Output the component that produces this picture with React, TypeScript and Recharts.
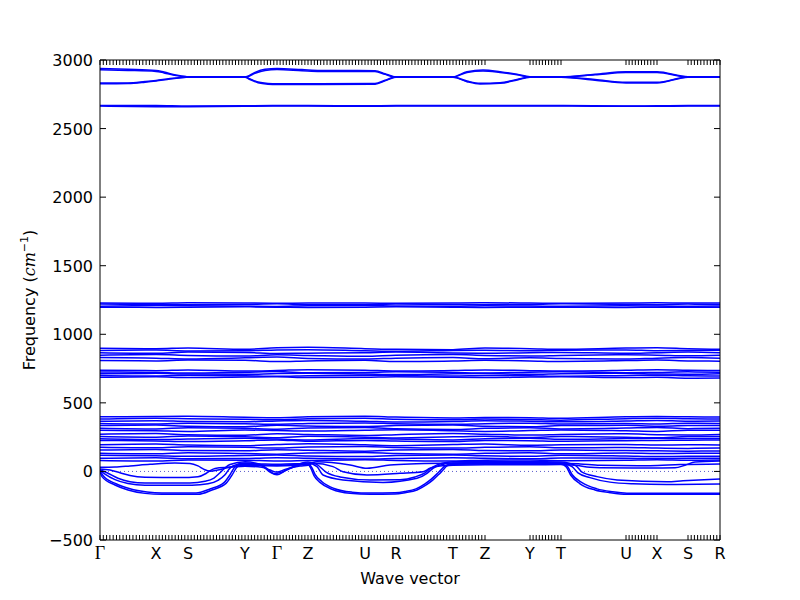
import { LineChart, Line, XAxis, YAxis, ReferenceLine, Label } from 'recharts';

// high-symmetry path
const hsLabels = ['Γ', 'X', 'S', 'Y', 'Γ', 'Z', 'U', 'R', 'T', 'Z', 'Y', 'T', 'U', 'X', 'S', 'R'];
const hsK = [0, 0.56, 0.88, 1.45, 1.77, 2.08, 2.65, 2.96, 3.53, 3.85, 4.3, 4.61, 5.26, 5.57, 5.88, 6.2];

// k-point sampling shown as small ticks: [from, to, steps]
const sampledSegments = [
  [0, 0.56, 17], [0.56, 0.88, 10], [0.88, 1.45, 18], [1.45, 1.77, 10], [1.77, 2.08, 10],
  [2.08, 2.65, 18], [2.65, 2.96, 10], [2.96, 3.53, 18], [3.53, 3.85, 10],
  [4.3, 4.61, 10], [5.26, 5.57, 10], [5.88, 6.2, 10],
];

const freqTicks = [-500, 0, 500, 1000, 1500, 2000, 2500, 3000];

// C-H stretch bands (k, freq)
const topA = [[0, 2938], [0.28, 2932], [0.56, 2924], [0.64, 2912], [0.76, 2890], [0.86, 2879], [0.88, 2878], [1.45, 2878], [1.47, 2880], [1.55, 2910], [1.65, 2932], [1.77, 2938], [2.02, 2930], [2.2, 2924], [2.75, 2922], [2.85, 2900], [2.93, 2880], [2.96, 2878], [3.53, 2878], [3.67, 2915], [3.83, 2927], [4.0, 2915], [4.17, 2896], [4.3, 2878], [4.61, 2878], [4.95, 2896], [5.26, 2914], [5.57, 2914], [5.88, 2878], [6.2, 2878]];
const topB = [[0, 2928], [0.28, 2924], [0.56, 2917], [0.64, 2906], [0.76, 2886], [0.86, 2877], [0.88, 2876], [1.45, 2876], [1.47, 2877], [1.55, 2903], [1.65, 2924], [1.77, 2930], [2.02, 2922], [2.2, 2917], [2.75, 2916], [2.85, 2895], [2.93, 2878], [2.96, 2876], [3.53, 2876], [3.67, 2909], [3.83, 2920], [4.0, 2909], [4.17, 2892], [4.3, 2876], [4.61, 2876], [4.95, 2892], [5.26, 2908], [5.57, 2908], [5.88, 2876], [6.2, 2876]];
const topC = [[0, 2826], [0.28, 2828], [0.45, 2838], [0.56, 2847], [0.7, 2862], [0.86, 2874], [0.88, 2875], [1.45, 2875], [1.5, 2858], [1.58, 2834], [1.68, 2824], [1.77, 2822], [2.2, 2822], [2.75, 2824], [2.85, 2848], [2.93, 2870], [2.96, 2875], [3.53, 2875], [3.67, 2842], [3.8, 2825], [4.0, 2830], [4.17, 2854], [4.3, 2875], [4.61, 2875], [4.95, 2853], [5.26, 2832], [5.57, 2832], [5.88, 2875], [6.2, 2875]];
const topD = [[0, 2832], [0.28, 2833], [0.45, 2843], [0.56, 2851], [0.7, 2865], [0.86, 2875], [0.88, 2876], [1.45, 2876], [1.5, 2862], [1.58, 2839], [1.68, 2829], [1.77, 2827], [2.2, 2827], [2.75, 2829], [2.85, 2852], [2.93, 2872], [2.96, 2876], [3.53, 2876], [3.67, 2847], [3.8, 2830], [4.0, 2835], [4.17, 2858], [4.3, 2876], [4.61, 2876], [4.95, 2857], [5.26, 2837], [5.57, 2837], [5.88, 2876], [6.2, 2876]];

// flat-ish bands, values at hsK
const h1 = [2668, 2668, 2664, 2666, 2668, 2668, 2666, 2668, 2668, 2668, 2668, 2668, 2664, 2666, 2668, 2668];
const h2 = [2664, 2660, 2660, 2662, 2664, 2664, 2662, 2664, 2664, 2664, 2664, 2664, 2662, 2662, 2664, 2664];

const b1 = [1228, 1226, 1230, 1228, 1226, 1228, 1228, 1226, 1228, 1230, 1228, 1226, 1228, 1230, 1228, 1228];
const b2 = [1220, 1218, 1215, 1218, 1222, 1216, 1216, 1220, 1218, 1216, 1218, 1222, 1218, 1216, 1220, 1218];
const b3 = [1205, 1210, 1208, 1205, 1203, 1208, 1210, 1206, 1204, 1208, 1206, 1204, 1208, 1206, 1204, 1206];
const b4 = [1198, 1196, 1198, 1200, 1198, 1196, 1198, 1200, 1198, 1196, 1198, 1198, 1196, 1198, 1198, 1198];

const c1 = [898, 895, 900, 890, 902, 905, 895, 890, 888, 900, 895, 890, 900, 902, 895, 890];
const c2 = [882, 885, 878, 880, 886, 888, 880, 876, 882, 884, 880, 884, 886, 880, 882, 884];
const c3 = [866, 862, 870, 868, 860, 862, 866, 870, 864, 862, 866, 868, 862, 866, 870, 866];
const c4 = [848, 852, 846, 842, 850, 846, 840, 848, 852, 846, 842, 846, 850, 848, 844, 848];
const c5 = [830, 826, 820, 828, 834, 824, 820, 826, 830, 822, 828, 824, 820, 826, 830, 826];
const c6 = [808, 806, 812, 810, 802, 806, 810, 802, 806, 810, 806, 802, 808, 812, 806, 804];

const d1 = [738, 735, 740, 732, 736, 742, 738, 732, 736, 740, 735, 732, 738, 742, 738, 736];
const d2 = [725, 722, 718, 724, 728, 720, 722, 726, 722, 718, 724, 726, 720, 722, 726, 724];
const d3 = [712, 715, 710, 708, 714, 716, 710, 706, 712, 714, 708, 712, 716, 710, 708, 712];
const d4 = [700, 696, 702, 698, 694, 698, 702, 700, 696, 700, 698, 694, 700, 702, 698, 696];
const d5 = [686, 690, 684, 688, 690, 684, 686, 690, 686, 684, 688, 690, 684, 686, 680, 682];

const e1 = [398, 400, 402, 395, 392, 398, 402, 396, 390, 394, 392, 388, 398, 400, 398, 396];
const e2 = [382, 388, 385, 380, 376, 384, 388, 380, 376, 382, 378, 374, 385, 388, 384, 382];
const e3 = [366, 370, 364, 362, 368, 372, 366, 360, 364, 370, 366, 362, 368, 372, 366, 368];
const e4 = [350, 346, 352, 348, 344, 350, 354, 348, 344, 348, 352, 346, 350, 346, 352, 350];
const e5 = [334, 338, 330, 326, 336, 332, 328, 334, 338, 330, 326, 334, 336, 330, 334, 334];
const e6 = [315, 310, 318, 314, 308, 316, 320, 312, 306, 314, 318, 310, 316, 320, 312, 314];
const e7 = [300, 296, 292, 302, 298, 294, 300, 304, 296, 292, 298, 302, 296, 292, 300, 300];
const e8 = [272, 276, 268, 264, 274, 270, 262, 268, 276, 272, 266, 270, 274, 268, 266, 270];
const e9 = [255, 250, 258, 252, 246, 256, 250, 244, 252, 256, 248, 254, 250, 246, 254, 254];
const e10 = [238, 232, 236, 242, 236, 230, 240, 236, 230, 238, 242, 234, 240, 242, 240, 241];
const e11 = [226, 222, 218, 224, 230, 220, 226, 222, 218, 226, 224, 220, 224, 226, 228, 229];
const e12 = [195, 200, 192, 188, 196, 202, 194, 188, 196, 200, 190, 194, 196, 192, 194, 193];
const e13 = [176, 172, 180, 176, 170, 178, 182, 174, 170, 176, 180, 172, 174, 170, 168, 170];
const e14 = [156, 160, 152, 150, 158, 154, 148, 156, 160, 152, 150, 156, 152, 150, 148, 149];
const e15 = [132, 128, 136, 130, 126, 134, 138, 130, 126, 132, 136, 128, 134, 130, 132, 132];
const e16 = [118, 114, 110, 116, 120, 112, 108, 116, 120, 114, 110, 118, 112, 108, 110, 110];
const e17 = [96, 100, 92, 94, 100, 96, 90, 94, 100, 96, 92, 98, 96, 94, 96, 96];
const e18 = [80, 76, 84, 82, 76, 80, 86, 80, 76, 82, 84, 78, 82, 86, 82, 83];

// soft / imaginary modes (k, freq)
const ac1 = [[0, 0], [0.02, -38], [0.15, -99], [0.28, -135], [0.45, -160], [0.62, -167], [0.98, -167], [1.12, -135], [1.26, -87], [1.32, -27], [1.36, 22], [1.39, 45], [1.45, 52], [1.6, 48], [1.77, 45], [1.95, 50], [2.08, 50], [2.11, 20], [2.14, -30], [2.2, -80], [2.32, -130], [2.5, -160], [2.7, -167], [2.95, -165], [3.05, -155], [3.17, -135], [3.27, -95], [3.33, -62], [3.39, -20], [3.43, 10], [3.47, 40], [3.53, 52], [3.85, 55], [4.3, 55], [4.61, 52], [4.66, 35], [4.71, -30], [4.8, -90], [4.95, -135], [5.1, -155], [5.27, -167], [6.2, -167]];
const ac2 = [[0, 5], [0.03, -30], [0.16, -90], [0.3, -127], [0.47, -150], [0.62, -157], [0.96, -157], [1.1, -128], [1.24, -82], [1.3, -24], [1.34, 24], [1.38, 48], [1.45, 58], [1.6, 55], [1.77, 52], [1.95, 56], [2.08, 56], [2.12, 25], [2.15, -22], [2.22, -75], [2.34, -124], [2.52, -151], [2.7, -158], [2.95, -156], [3.05, -147], [3.16, -127], [3.25, -90], [3.31, -58], [3.37, -18], [3.41, 12], [3.45, 40], [3.53, 58], [3.85, 60], [4.3, 60], [4.61, 58], [4.67, 40], [4.72, -22], [4.82, -82], [4.97, -127], [5.12, -148], [5.27, -159], [6.2, -160]];
const ac3 = [[0, 8], [0.05, -20], [0.15, -60], [0.28, -88], [0.45, -100], [0.92, -100], [1.08, -90], [1.18, -65], [1.25, -25], [1.29, 15], [1.33, 40], [1.45, 62], [1.62, 40], [1.7, -5], [1.77, -25], [1.85, 5], [1.95, 35], [2.08, 62], [2.17, 35], [2.23, -26], [2.43, -62], [2.83, -80], [3.17, -50], [3.27, -14], [3.33, 23], [3.45, 55], [3.53, 62], [3.85, 65], [4.3, 65], [4.61, 62], [4.72, 35], [4.78, -10], [4.9, -45], [5.1, -78], [5.33, -90], [5.67, -95], [6.2, -92]];
const ac4 = [[0, 12], [0.07, -10], [0.18, -50], [0.3, -75], [0.45, -85], [0.9, -84], [1.05, -72], [1.14, -48], [1.2, -10], [1.25, 25], [1.3, 50], [1.45, 70], [1.6, 52], [1.68, 15], [1.74, -15], [1.8, -10], [1.9, 25], [2.08, 68], [2.17, 50], [2.26, -5], [2.4, -40], [2.7, -62], [3.0, -60], [3.15, -40], [3.25, -10], [3.32, 30], [3.53, 70], [3.85, 72], [4.3, 72], [4.61, 68], [4.76, 40], [4.82, -5], [4.97, -38], [5.17, -62], [5.67, -75], [5.83, -68], [6.2, -55]];
const ac5 = [[0, 18], [0.1, 10], [0.2, -10], [0.3, -30], [0.45, -42], [0.8, -45], [0.98, -38], [1.06, -15], [1.1, 5], [1.15, 22], [1.3, 30], [1.45, 38], [1.62, 30], [1.7, 10], [1.77, -5], [1.85, 15], [2.0, 40], [2.08, 45], [2.13, 59], [2.33, 35], [2.43, -2], [2.67, -26], [3.0, -14], [3.23, -2], [3.3, 23], [3.4, 40], [3.53, 45], [3.85, 48], [4.3, 48], [4.61, 50], [4.75, 45], [4.9, 30], [5.0, 27], [5.5, 25], [5.75, 27], [5.85, 45], [5.95, 68], [6.2, 76]];
const ac6 = [[0, 30], [0.15, 32], [0.3, 40], [0.5, 52], [0.75, 62], [0.9, 58], [0.98, 40], [1.04, 15], [1.1, 2], [1.18, 10], [1.3, 32], [1.45, 45], [1.77, 40], [2.08, 55], [2.17, 71], [2.5, 47], [2.67, 23], [2.9, 47], [3.1, 55], [3.53, 60], [3.85, 62], [4.3, 60], [4.61, 60], [4.8, 55], [5.0, 45], [5.5, 42], [5.8, 50], [6.2, 55]];

const pairBands = [topA, topB, topC, topD, ac1, ac2, ac3, ac4, ac5, ac6];
const hsBands = [h1, h2, b1, b2, b3, b4, c1, c2, c3, c4, c5, c6, d1, d2, d3, d4, d5,
  e1, e2, e3, e4, e5, e6, e7, e8, e9, e10, e11, e12, e13, e14, e15, e16, e17, e18];

const series = [
  ...pairBands.map((b) => b.map(([k, f]) => ({ k, f }))),
  ...hsBands.map((b) => hsK.map((k, i) => ({ k, f: b[i] }))),
];

const kTicks: number[] = [...hsK];
sampledSegments.forEach(([a, b, n]) => {
  for (let j = 1; j < n; j++) kTicks.push(a + ((b - a) * j) / n);
});
kTicks.sort((p, q) => p - q);

const font = 'DejaVu Sans, sans-serif';

const labelAt = (v: number) => {
  const i = hsK.findIndex((h) => Math.abs(h - v) < 1e-6);
  return i >= 0 ? hsLabels[i] : null;
};

const BottomTick = (props: any) => {
  const { x, y, payload } = props;
  const lab = labelAt(payload.value);
  return (
    <g>
      <line x1={x} y1={y} x2={x} y2={y - 5} stroke="#000" />
      {lab && (
        <text x={x} y={y + 19} textAnchor="middle" fontSize={lab === 'Γ' ? 18 : 16}
          fontFamily={lab === 'Γ' ? 'Liberation Serif, serif' : font} fill="#000">
          {lab}
        </text>
      )}
    </g>
  );
};

const TopTick = (props: any) => {
  const { x, y } = props;
  return <line x1={x} y1={y} x2={x} y2={y + 5} stroke="#000" />;
};

const LeftTick = (props: any) => {
  const { x, y, payload } = props;
  return (
    <g>
      <line x1={x} y1={y} x2={x + 6} y2={y} stroke="#000" />
      <text x={x - 7} y={y + 6} textAnchor="end" fontSize={16} fontFamily={font} fill="#000">
        {String(payload.value).replace('-', '\u2212')}
      </text>
    </g>
  );
};

const RightTick = (props: any) => {
  const { x, y } = props;
  return <line x1={x} y1={y} x2={x - 6} y2={y} stroke="#000" />;
};

export default function App() {
  return (
    <div style={{ position: 'absolute', left: 0, top: 0 }}>
      <LineChart width={800} height={600} margin={{ top: 59, right: 79, bottom: 10, left: 40 }}>
        <XAxis dataKey="k" type="number" domain={[0, 6.2]} allowDataOverflow ticks={kTicks} interval={0}
          tickSize={0} tickMargin={0} tickLine={false} tick={<BottomTick />} height={50}
          axisLine={{ stroke: '#000' }}>
          <Label
            content={({ viewBox }: any) => (
              <text x={viewBox.x + viewBox.width / 2} y={viewBox.y + 44} textAnchor="middle"
                fontSize={16} fontFamily={font} fill="#000">
                Wave vector
              </text>
            )}
          />
        </XAxis>
        <XAxis xAxisId="top" dataKey="k" orientation="top" type="number" domain={[0, 6.2]} allowDataOverflow
          ticks={kTicks} interval={0} tickSize={0} tickMargin={0} tickLine={false} tick={<TopTick />}
          height={1} axisLine={{ stroke: '#000' }} />
        <YAxis type="number" domain={[-500, 3000]} allowDataOverflow ticks={freqTicks} interval={0}
          tickSize={0} tickMargin={0} tickLine={false} tick={<LeftTick />} width={60}
          axisLine={{ stroke: '#000' }}>
          <Label
            content={({ viewBox }: any) => {
              const cx = viewBox.x - 5;
              const cy = viewBox.y + viewBox.height / 2;
              return (
                <text transform={`translate(${cx}, ${cy}) rotate(-90)`} textAnchor="middle"
                  fontSize={16} fontFamily={font} fill="#000">
                  Frequency (
                  <tspan fontFamily="DejaVu Serif, serif" fontStyle="italic">cm</tspan>
                  <tspan dy={-7} fontSize={11}>{'\u22121'}</tspan>
                  <tspan dy={7}>)</tspan>
                </text>
              );
            }}
          />
        </YAxis>
        <YAxis yAxisId="right" orientation="right" type="number" domain={[-500, 3000]} allowDataOverflow
          ticks={freqTicks} interval={0} tickSize={0} tickMargin={0} tickLine={false} tick={<RightTick />}
          width={1} axisLine={{ stroke: '#000' }} />
        <ReferenceLine y={0} stroke="#5a5acc" strokeWidth={1} strokeDasharray="1 3" />
        {series.map((d, i) => {
          const alt = i % 2 === 1;
          return (
            <Line key={i} data={d} dataKey="f" type="monotone" stroke="#0000ff" strokeWidth={1.5}
              xAxisId={alt ? 'top' : 0} yAxisId={alt ? 'right' : 0}
              dot={false} isAnimationActive={false} />
          );
        })}
      </LineChart>
    </div>
  );
}
